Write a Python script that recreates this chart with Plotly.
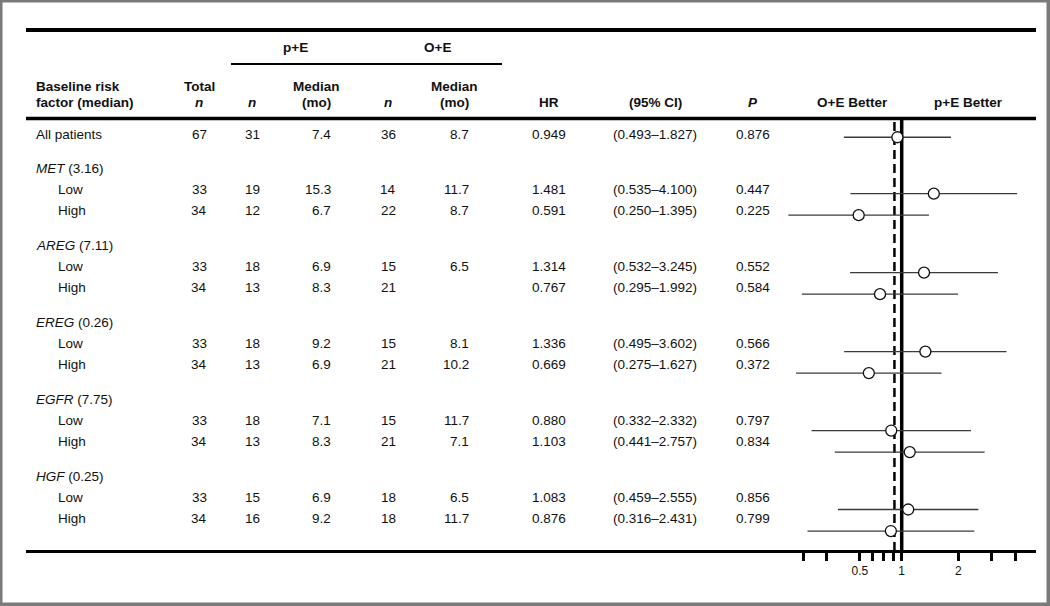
import math
import plotly.graph_objects as go

# ---------------- data ----------------
all_label = "All patients"
all_total_n = 67
all_pe_n = 31
all_pe_median = "7.4"
all_oe_n = 36
all_oe_median = "8.7"
all_hr = 0.949
all_ci_low = 0.493
all_ci_high = 1.827
all_p = "0.876"

groups = ["MET", "AREG", "EREG", "EGFR", "HGF"]
group_medians = ["3.16", "7.11", "0.26", "7.75", "0.25"]
levels = ["Low", "High"]

total_n = [33, 34, 33, 34, 33, 34, 33, 34, 33, 34]
pe_n = [19, 12, 18, 13, 18, 13, 18, 13, 15, 16]
pe_median = ["15.3", "6.7", "6.9", "8.3", "9.2", "6.9", "7.1", "8.3", "6.9", "9.2"]
oe_n = [14, 22, 15, 21, 15, 21, 15, 21, 18, 18]
oe_median = ["11.7", "8.7", "6.5", "", "8.1", "10.2", "11.7", "7.1", "6.5", "11.7"]
hr = [1.481, 0.591, 1.314, 0.767, 1.336, 0.669, 0.880, 1.103, 1.083, 0.876]
ci_low = [0.535, 0.250, 0.532, 0.295, 0.495, 0.275, 0.332, 0.441, 0.459, 0.316]
ci_high = [4.100, 1.395, 3.245, 1.992, 3.602, 1.627, 2.332, 2.757, 2.555, 2.431]
p_value = ["0.447", "0.225", "0.552", "0.584", "0.566", "0.372", "0.797", "0.834", "0.856", "0.799"]

tick_values = [0.3, 0.4, 0.6, 0.7, 0.8, 0.9, 1, 2, 3, 4]
tick_labels = ["", "", "0.5", "", "", "", "1", "2", "", ""]
dashed_ref = 0.915
null_ref = 1

# ---------------- layout constants (pixel units of the table axis) ----------------
W, H = 1050, 606
FONT = "Liberation Sans, Arial, Helvetica, sans-serif"
TXT = "#111111"
FS = 13.5

Y_ALL = 134
Y_GROUP0 = 168.5
GROUP_PITCH = 77.0
LOW_OFF = 20.5
HIGH_OFF = 41.5

X_LABEL = 34
X_INDENT = 56
X_TOTAL = 199
X_PEN = 252
X_PEMED = 333
X_OEN = 388
X_OEMED = 471
X_HR = 549
X_CI = 655
X_P = 753

# forest axis: stretch relative to table rows (as in the reference)
F_SLOPE = 1.02548
F_INT = -0.165
f_top = -F_INT / F_SLOPE
f_bot = f_top + H / F_SLOPE

PX_PER_DEC = 188.3
X_ONE = 901.7
LR0, LR1 = -0.7, 0.7
dom0 = (X_ONE + LR0 * PX_PER_DEC) / W
dom1 = (X_ONE + LR1 * PX_PER_DEC) / W

# ---------------- rows ----------------
row_y = []
for g in range(len(groups)):
    gy = Y_GROUP0 + g * GROUP_PITCH
    row_y.append(gy + LOW_OFF)
    row_y.append(gy + HIGH_OFF)

annotations = []


def txt(x, y, s, anchor="center", size=FS):
    annotations.append(dict(
        x=x, y=y, xref="x", yref="y", text=s, showarrow=False,
        xanchor=anchor, yanchor="middle",
        font=dict(family=FONT, size=size, color=TXT),
    ))


# header
txt(295, 47, "<b>p+E</b>")
txt(437, 47, "<b>O+E</b>")
txt(X_LABEL, 86, "<b>Baseline risk</b>", "left")
txt(X_LABEL, 102, "<b>factor (median)</b>", "left")
txt(X_TOTAL, 86, "<b>Total</b>")
txt(X_TOTAL, 102, "<b><i>n</i></b>")
txt(X_PEN, 102, "<b><i>n</i></b>")
txt(316, 86, "<b>Median</b>")
txt(316, 102, "<b>(mo)</b>")
txt(X_OEN, 102, "<b><i>n</i></b>")
txt(454, 86, "<b>Median</b>")
txt(454, 102, "<b>(mo)</b>")
txt(X_HR, 102, "<b>HR</b>")
txt(X_CI, 102, "<b>(95% CI)</b>")
txt(X_P, 102, "<b><i>P</i></b>")
txt(852, 102, "<b>O+E Better</b>")
txt(968, 102, "<b>p+E Better</b>")

# all patients row
txt(X_LABEL, Y_ALL, all_label, "left")
txt(X_TOTAL, Y_ALL, str(all_total_n))
txt(X_PEN, Y_ALL, str(all_pe_n))
txt(X_PEMED, Y_ALL, all_pe_median, "right")
txt(X_OEN, Y_ALL, str(all_oe_n))
txt(X_OEMED, Y_ALL, all_oe_median, "right")
txt(X_HR, Y_ALL, f"{all_hr:.3f}")
txt(X_CI, Y_ALL, f"({all_ci_low:.3f}\u2013{all_ci_high:.3f})")
txt(X_P, Y_ALL, all_p)

for g, (name, med) in enumerate(zip(groups, group_medians)):
    txt(X_LABEL, Y_GROUP0 + g * GROUP_PITCH, f"<i>{name}</i> ({med})", "left")

for i, y in enumerate(row_y):
    txt(X_INDENT, y, levels[i % 2], "left")
    txt(X_TOTAL, y, str(total_n[i]))
    txt(X_PEN, y, str(pe_n[i]))
    txt(X_PEMED, y, pe_median[i], "right")
    txt(X_OEN, y, str(oe_n[i]))
    if oe_median[i]:
        txt(X_OEMED, y, oe_median[i], "right")
    txt(X_HR, y, f"{hr[i]:.3f}")
    txt(X_CI, y, f"({ci_low[i]:.3f}\u2013{ci_high[i]:.3f})")
    txt(X_P, y, p_value[i])

# ---------------- forest traces ----------------
f_hr = [all_hr] + hr
f_lo = [all_ci_low] + ci_low
f_hi = [all_ci_high] + ci_high
f_y = [Y_ALL] + row_y

seg_x, seg_y = [], []
for lo, hi, y in zip(f_lo, f_hi, f_y):
    seg_x += [lo, hi, None]
    seg_y += [y, y, None]

fig = go.Figure()
fig.add_trace(go.Scatter(
    x=seg_x, y=seg_y, xaxis="x2", yaxis="y2", mode="lines",
    line=dict(color="#3a3a3a", width=1.3), hoverinfo="skip", showlegend=False,
))
fig.add_trace(go.Scatter(
    x=f_hr, y=f_y, xaxis="x2", yaxis="y2", mode="markers",
    marker=dict(symbol="circle", size=11, color="white",
                line=dict(color="#111111", width=1.3)),
    hoverinfo="skip", showlegend=False,
))

# ---------------- shapes ----------------
shapes = []
# table rules
shapes.append(dict(type="line", xref="x", yref="y", x0=26, x1=1036, y0=30, y1=30,
                   line=dict(color="black", width=4)))
shapes.append(dict(type="line", xref="x", yref="y", x0=231, x1=502, y0=64, y1=64,
                   line=dict(color="black", width=2)))
shapes.append(dict(type="line", xref="x", yref="y", x0=26, x1=1036, y0=118.5, y1=118.5,
                   line=dict(color="black", width=3.5)))
shapes.append(dict(type="line", xref="x", yref="y", x0=26, x1=1036, y0=551.5, y1=551.5,
                   line=dict(color="black", width=3)))
# reference lines
shapes.append(dict(type="line", xref="x2", yref="paper", x0=null_ref, x1=null_ref,
                   y0=1 - 551 / H, y1=1 - 118 / H, layer="below",
                   line=dict(color="black", width=3.5)))
shapes.append(dict(type="line", xref="x2", yref="paper", x0=dashed_ref, x1=dashed_ref,
                   y0=1 - 551 / H, y1=1 - 120 / H, layer="below",
                   line=dict(color="black", width=2.5, dash="9px,5px")))
# frame
shapes.append(dict(type="rect", xref="x", yref="y", x0=0.5, x1=1048.5, y0=0.5, y1=604.5,
                   line=dict(color="#7a7a7a", width=4)))

fig.update_layout(
    width=W, height=H,
    margin=dict(l=0, r=0, t=0, b=0),
    paper_bgcolor="white",
    plot_bgcolor="rgba(0,0,0,0)",
    showlegend=False,
    xaxis=dict(domain=[0, 1], range=[0, W], visible=False, fixedrange=True),
    yaxis=dict(domain=[0, 1], range=[H, 0], visible=False, fixedrange=True),
    xaxis2=dict(type="log", domain=[dom0, dom1], range=[LR0, LR1],
                anchor="free", position=1 - 552 / H,
                showline=False, showgrid=False, zeroline=False,
                tickmode="array", tickvals=tick_values, ticktext=tick_labels,
                ticks="outside", ticklen=8, tickwidth=2.5, tickcolor="black",
                tickfont=dict(family=FONT, size=12, color=TXT), fixedrange=True),
    yaxis2=dict(domain=[0, 1], range=[f_bot, f_top], anchor="free", position=0,
                visible=False, fixedrange=True),
    annotations=annotations,
    shapes=shapes,
)

fig.write_html(
    "out.html",
    config={"displayModeBar": False},
    post_script="document.body.style.margin='0';document.body.style.overflow='hidden';",
)
